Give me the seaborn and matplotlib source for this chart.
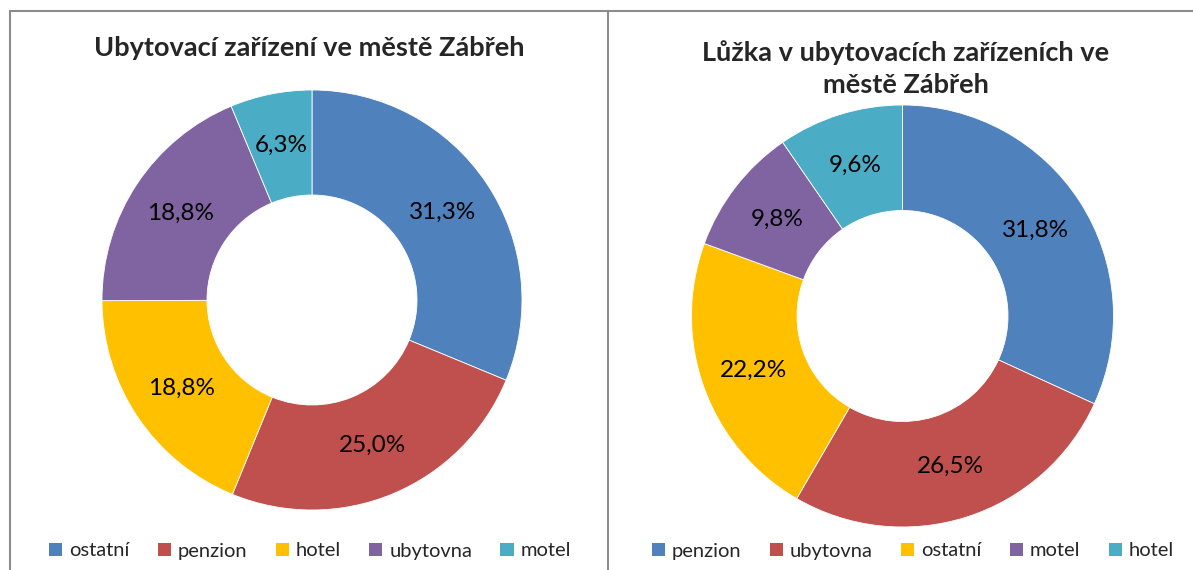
import numpy as np
import matplotlib
matplotlib.use("Agg")
import matplotlib.pyplot as plt
import seaborn as sns
from matplotlib.patches import Patch
from matplotlib.lines import Line2D

# data
left_title = "Ubytovací zařízení ve městě Zábřeh"
left_cats = ["ostatní", "penzion", "hotel", "ubytovna", "motel"]
left_vals = [31.3, 25.0, 18.8, 18.8, 6.3]

right_title = "Lůžka v ubytovacích zařízeních ve\nměstě Zábřeh"
right_cats = ["penzion", "ubytovna", "ostatní", "motel", "hotel"]
right_vals = [31.8, 26.5, 22.2, 9.8, 9.6]

sns.set_theme(style="white")
plt.rcParams['font.family'] = ['Lato', 'DejaVu Sans']

# Excel 2007 office palette
colors = sns.color_palette(["#4F81BD", "#C0504D", "#FFC000", "#8064A2", "#4BACC6"])

W, H = 1193, 570
fig = plt.figure(figsize=(W / 100, H / 100), dpi=100)
fig.patch.set_facecolor("white")


def px_axes(cx, cy, r):
    return fig.add_axes([(cx - r) / W, (H - cy - r) / H, 2 * r / W, 2 * r / H])


def donut(ax, vals):
    lbls = [f"{v:.1f}%".replace(".", ",") for v in vals]
    wedges, _ = ax.pie(vals, colors=colors, startangle=90, counterclock=False,
                       radius=1.0, wedgeprops=dict(width=0.5, edgecolor="white", linewidth=0.6))
    for w, s in zip(wedges, lbls):
        ang = np.deg2rad((w.theta1 + w.theta2) / 2)
        ax.text(0.75 * np.cos(ang), 0.75 * np.sin(ang), s,
                ha="center", va="center", fontsize=17.5, color="black")
    ax.set_xlim(-1, 1)
    ax.set_ylim(-1, 1)
    ax.set_aspect("equal")
    ax.axis("off")


ax1 = px_axes(312, 300, 210)
donut(ax1, left_vals)
ax2 = px_axes(902.5, 316, 211)
donut(ax2, right_vals)

fig.text(309 / W, 1 - 48 / H, left_title, ha="center", va="center",
         fontsize=19.5, fontweight="bold")
fig.text(906 / W, 1 - 68.5 / H, right_title, ha="center", va="center",
         fontsize=19.5, fontweight="bold", linespacing=1.4)


def add_legend(cats, cx):
    handles = [Patch(facecolor=colors[i], edgecolor="none") for i in range(len(cats))]
    fig.legend(handles, cats, loc="center", bbox_to_anchor=(cx / W, 1 - 551 / H),
               ncol=len(cats), frameon=False, fontsize=14.5, handlelength=0.65,
               handleheight=0.65, handletextpad=0.35, columnspacing=1.4, borderpad=0)


add_legend(left_cats, 310)
add_legend(right_cats, 913)

# panel frames
gray = "#8c8c8c"
lw = 1.5
for xs, ys in [((10, W), (11, 11)), ((10, 10), (11, H)), ((607.5, 607.5), (11, H))]:
    fig.add_artist(Line2D([x / W for x in xs], [1 - y / H for y in ys],
                          transform=fig.transFigure, color=gray, lw=lw))

fig.savefig("out.png", dpi=100, facecolor="white")
